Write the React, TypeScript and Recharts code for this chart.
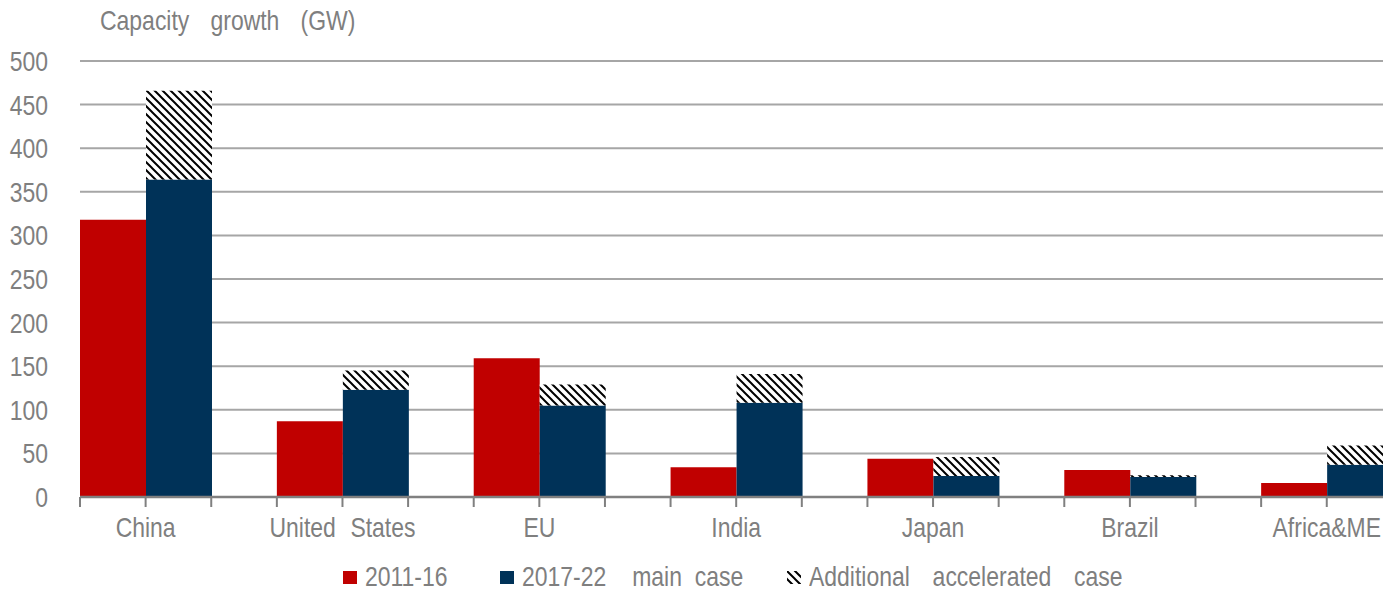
import { BarChart, Bar, XAxis, YAxis, CartesianGrid } from 'recharts';

const regions = ['China', 'United States', 'EU', 'India', 'Japan', 'Brazil', 'Africa&ME'];
const growth2011to16 = [318, 87, 159, 34, 44, 31, 16];
const mainCase2017to22 = [364, 123, 105, 108, 24, 23, 37];
const acceleratedExtra = [102, 22, 24, 33, 22, 2, 22];
const yTicks = [0, 50, 100, 150, 200, 250, 300, 350, 400, 450, 500];

const seriesNames = ['2011-16', '2017-22  main case', 'Additional accelerated case'];

const data = regions.map((region, i) => ({
  region,
  past: growth2011to16[i],
  main: mainCase2017to22[i],
  extra: acceleratedExtra[i],
}));

const CHART_W = 1458;
const CHART_H = 592;
const LEFT = 80;
const BAND = (CHART_W - LEFT) / regions.length;
// narrow look: Arial metrics squeezed horizontally
const FONT = '"Liberation Sans", Arial, sans-serif';
const SQUEEZE = 0.82;
const GREY = '#7f7f7f';
const RED = '#c00000';
const NAVY = '#003258';

const RegionTick = (props: any) => {
  const { x, y, payload } = props;
  const start = x - BAND / 2;
  return (
    <g>
      {[0, 1, 2].map((k) => (
        <line
          key={k}
          x1={start + (k * BAND) / 3}
          x2={start + (k * BAND) / 3}
          y1={y}
          y2={y + 10}
          stroke="#808080"
          strokeWidth={2}
        />
      ))}
      <text
        transform={`translate(${start + BAND / 3},${y + 40}) scale(${SQUEEZE},1)`}
        textAnchor="middle"
        fill={GREY}
        fontSize={28}
        fontFamily={FONT}
        style={{ wordSpacing: 10 }}
      >
        {payload.value}
      </text>
    </g>
  );
};

const ValueTick = (props: any) => {
  const { x, y, payload } = props;
  return (
    <text
      transform={`translate(${x},${y}) scale(${SQUEEZE},1)`}
      dy="0.36em"
      textAnchor="end"
      fill={GREY}
      fontSize={28}
      fontFamily={FONT}
    >
      {payload.value}
    </text>
  );
};

const Swatch = ({ fill }: { fill: string }) => (
  <svg width={14} height={13} style={{ display: 'block' }}>
    <defs>
      <pattern id="sw-hatch" width={8} height={8} patternUnits="userSpaceOnUse">
        <rect width={8} height={8} fill="#fff" />
        <path d="M0,0 L8,8 M-2,6 L2,10 M6,-2 L10,2" stroke="#000" strokeWidth={2} />
      </pattern>
    </defs>
    <rect width={14} height={13} fill={fill === 'hatch' ? 'url(#sw-hatch)' : fill} />
  </svg>
);

const legendFills = [RED, NAVY, 'hatch'];
const legendLeft = [343, 500, 787];
const legendWordSpacing = [8, 8, 20];

const squeezed = {
  display: 'inline-block',
  transform: `scaleX(${SQUEEZE})`,
  transformOrigin: 'left center',
  whiteSpace: 'pre' as const,
};

export default function App() {
  return (
    <div
      style={{
        position: 'absolute',
        left: 0,
        top: 0,
        width: 1383,
        height: 592,
        overflow: 'hidden',
        background: '#fff',
        fontFamily: FONT,
      }}
    >
      <div
        style={{
          position: 'absolute',
          left: 100,
          top: 7,
          fontSize: 28,
          lineHeight: '28px',
          color: GREY,
        }}
      >
        <span style={{ ...squeezed, wordSpacing: 18 }}>Capacity growth (GW)</span>
      </div>

      <BarChart
        width={CHART_W}
        height={CHART_H}
        data={data}
        margin={{ top: 61, right: 0, bottom: 55, left: 0 }}
        barCategoryGap={0}
        barGap={0}
      >
        <defs>
          <pattern id="hatch" width={8} height={8} patternUnits="userSpaceOnUse">
            <rect width={8} height={8} fill="#fff" />
            <path d="M0,0 L8,8 M-2,6 L2,10 M6,-2 L10,2" stroke="#000" strokeWidth={2} />
          </pattern>
        </defs>
        <CartesianGrid vertical={false} stroke="#a6a6a6" strokeWidth={2} />
        <XAxis
          dataKey="region"
          height={40}
          axisLine={{ stroke: '#808080', strokeWidth: 2.5 }}
          tickLine={false}
          tickSize={0}
          tickMargin={0}
          interval={0}
          tick={<RegionTick />}
        />
        <YAxis
          width={LEFT}
          domain={[0, 500]}
          ticks={yTicks}
          axisLine={false}
          tickLine={false}
          tickSize={0}
          tickMargin={32}
          tick={<ValueTick />}
        />
        <Bar dataKey="past" stackId="a" fill={RED} isAnimationActive={false} />
        <Bar dataKey="main" stackId="b" fill={NAVY} isAnimationActive={false} />
        <Bar dataKey="extra" stackId="b" fill="url(#hatch)" isAnimationActive={false} />
        <Bar dataKey="spacer" stackId="c" fill="none" legendType="none" isAnimationActive={false} />
      </BarChart>

      {seriesNames.map((name, i) => (
        <div
          key={name}
          style={{
            position: 'absolute',
            left: legendLeft[i],
            top: 563,
            display: 'flex',
            alignItems: 'center',
            fontSize: 28,
            lineHeight: '28px',
            color: GREY,
          }}
        >
          <Swatch fill={legendFills[i]} />
          <span style={{ ...squeezed, marginLeft: 8, wordSpacing: legendWordSpacing[i] }}>{name}</span>
        </div>
      ))}
    </div>
  );
}
